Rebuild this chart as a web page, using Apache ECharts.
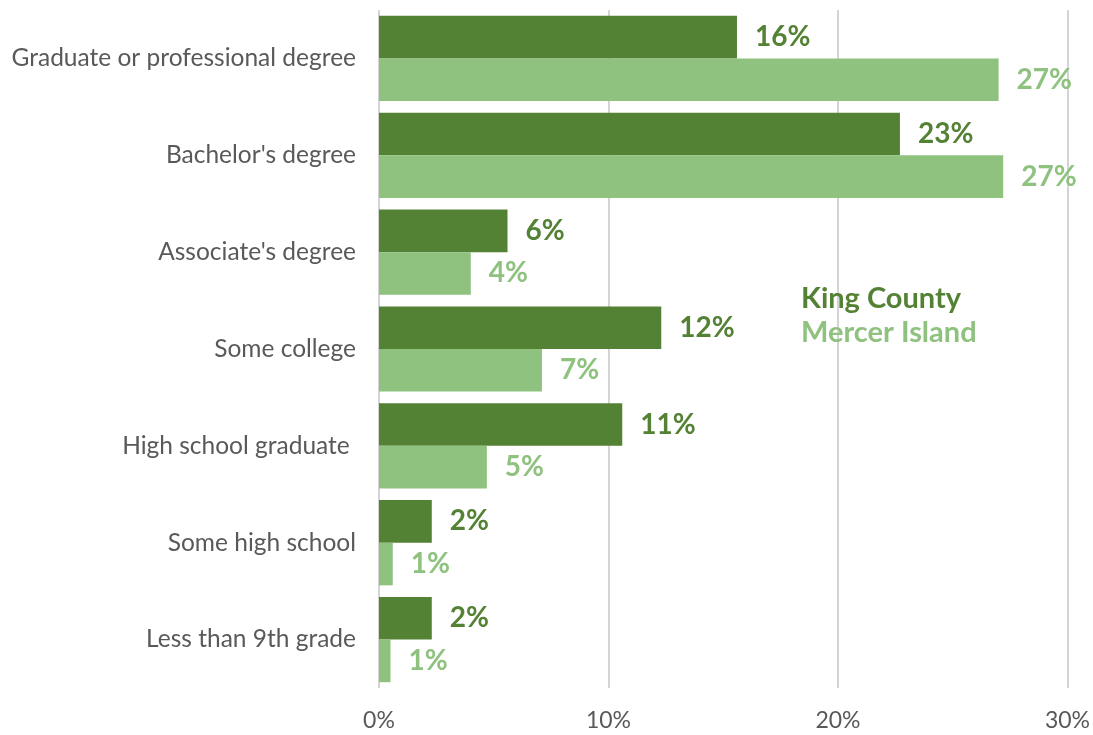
<!DOCTYPE html>
<html>
<head>
<meta charset="utf-8">
<script src="https://cdn.jsdelivr.net/npm/echarts@6/dist/echarts.min.js"></script>
<style>
  html, body { margin: 0; padding: 0; background: #fff; }
  #chart { width: 1093px; height: 735px; }
</style>
</head>
<body>
<div id="chart"></div>
<script>
// 教育程度分类（从上到下）
const categories = [
  'Graduate or professional degree',
  "Bachelor's degree",
  "Associate's degree",
  'Some college',
  'High school graduate ',
  'Some high school',
  'Less than 9th grade'
];
// 各系列数值（%）
const kingCounty = [15.6, 22.7, 5.6, 12.3, 10.6, 2.3, 2.3];
const mercerIsland = [27.0, 27.2, 4.0, 7.1, 4.7, 0.6, 0.5];
const xTicks = [0, 10, 20, 30];

const darkGreen = '#548235';
const lightGreen = '#8fc17f';
const font = 'Lato, "Open Sans", sans-serif';

var myChart = echarts.init(document.getElementById('chart'));

const barLabel = (color, weight) => ({
  show: true,
  position: 'right',
  distance: 18,
  color: color,
  fontFamily: font,
  fontSize: 28,
  fontWeight: weight,
  formatter: p => Math.round(p.value) + '%'
});

var option = {
  animation: false,
  grid: { left: 379, right: 24, top: 10, bottom: 47, containLabel: false },
  legend: {
    orient: 'vertical',
    left: 791,
    top: 279,
    icon: 'none',
    itemWidth: 0,
    itemGap: 5,
    textStyle: { fontFamily: font, fontSize: 29, fontWeight: 'bold', padding: 0 },
    data: [
      { name: 'King County', textStyle: { color: darkGreen, fontWeight: 'bold' } },
      { name: 'Mercer Island', textStyle: { color: lightGreen, fontWeight: 'bold' } }
    ]
  },
  xAxis: {
    type: 'value',
    min: xTicks[0],
    max: xTicks[xTicks.length - 1],
    interval: 10,
    axisLine: { show: false },
    axisTick: { show: false },
    splitLine: { lineStyle: { color: '#d4d4d4', width: 2 } },
    axisLabel: {
      color: '#595959',
      fontFamily: font,
      fontSize: 23,
      margin: 21,
      formatter: v => v + '%'
    }
  },
  yAxis: {
    type: 'category',
    data: categories,
    inverse: true,
    axisLine: { show: false },
    axisTick: { show: false },
    axisLabel: {
      color: '#595959',
      fontFamily: font,
      fontSize: 24.5,
      margin: 23
    }
  },
  series: [
    {
      name: 'King County',
      type: 'bar',
      data: kingCounty,
      barGap: '0%',
      barCategoryGap: '12%',
      itemStyle: { color: darkGreen },
      label: barLabel(darkGreen, 'bold')
    },
    {
      name: 'Mercer Island',
      type: 'bar',
      data: mercerIsland,
      itemStyle: { color: lightGreen },
      label: barLabel(lightGreen, 'bold')
    }
  ]
};

myChart.setOption(option);
</script>
</body>
</html>
